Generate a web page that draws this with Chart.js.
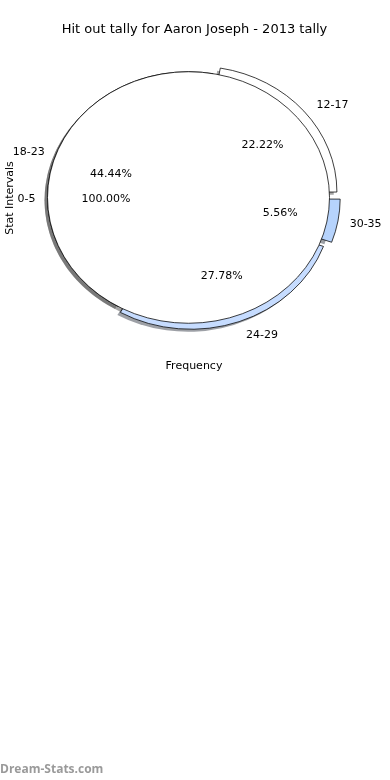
<!DOCTYPE html>
<html>
<head>
<meta charset="utf-8">
<script src="https://cdn.jsdelivr.net/npm/chart.js@4.4.1/dist/chart.umd.min.js"></script>
<style>
body { margin: 0; background: #fff; }
#wrap { position: relative; width: 390px; height: 780px; }
#wrap canvas { position: absolute; left: 0; top: 0; }
</style>
</head>
<body>
<div id="wrap">
  <canvas id="slices" width="390" height="780"></canvas>
  <canvas id="whole" width="390" height="780"></canvas>
</div>
<script>
'use strict';
// slices in the order they go round (anticlockwise from 3 o'clock)
let intervals = ['12-17', '18-23', '24-29', '30-35'];
let tally = [4, 8, 5, 1];
let sliceColors = ['#ffffff', '#ffffff', '#c6dcff', '#b6d3fc'];
let explode = [38, 0, 28, 26];
// the second pie, drawn over the first one
let wholeIntervals = ['0-5'];
let wholeTally = [1];

let squash = 0.892;      // the pie is an oval, not a circle
let shadowShift = 3;
let font = '"DejaVu Sans", sans-serif';
let shadowCharts = [];

function pct(list, i) {
  let sum = list.reduce((a, b) => a + b, 0);
  return (list[i] / sum * 100).toFixed(2) + '%';
}

// chart.js goes clockwise, so feed it back to front
function rev(a) { return a.slice().reverse(); }

function spot(a, dist) {
  let mid = (a.startAngle + a.endAngle) / 2;
  let t = (a.options.offset || 0) / 4;
  let d = t + dist * a.outerRadius;
  return { x: a.x + Math.cos(mid) * d + 2, y: a.y + Math.sin(mid) * d * squash + 2, right: Math.cos(mid) > 0.001 };
}

function shadeOf(hex) {
  let n = parseInt(hex.slice(1), 16);
  let r = Math.round(((n >> 16) & 255) * 0.3);
  let g = Math.round(((n >> 8) & 255) * 0.3);
  let b = Math.round((n & 255) * 0.3);
  return 'rgba(' + r + ',' + g + ',' + b + ',0.5)';
}

function arcPath(ctx, a, dx, dy) {
  let mid = (a.startAngle + a.endAngle) / 2;
  let t = (a.options.offset || 0) / 4;
  let x = a.x + Math.cos(mid) * t + dx;
  let y = a.y + Math.sin(mid) * t + dy;
  let full = a.endAngle - a.startAngle > Math.PI * 2 - 0.001;
  ctx.beginPath();
  if (!full) ctx.moveTo(x, y);
  ctx.arc(x, y, a.outerRadius, a.startAngle, full ? a.startAngle + Math.PI * 2 : a.endAngle);
  ctx.closePath();
}

// every shadow goes under every wedge, so they all live on the bottom canvas
function drawShadows(ctx) {
  shadowCharts.forEach(ch => {
    ch.getDatasetMeta(0).data.forEach(a => {
      arcPath(ctx, a, -shadowShift, shadowShift);
      ctx.fillStyle = shadeOf(a.options.backgroundColor);
      ctx.fill();
    });
  });
}

let ovalPlugin = {
  id: 'oval',
  beforeDatasetsDraw(chart) {
    let ctx = chart.ctx;
    let cy = chart.getDatasetMeta(0).data[0].y;
    ctx.save();
    ctx.translate(0, cy);
    ctx.scale(1, squash);
    ctx.translate(0, -cy);
    if (chart.canvas.id === 'slices') drawShadows(ctx);
  },
  afterDatasetsDraw(chart) {
    let ctx = chart.ctx;
    // the lone 100% wedge gets its rim stroked here, chart.js would add a radius line
    if (chart.canvas.id === 'whole') {
      chart.getDatasetMeta(0).data.forEach(a => {
        arcPath(ctx, a, 0, 0);
        ctx.lineWidth = 0.8;
        ctx.strokeStyle = '#000';
        ctx.stroke();
      });
    }
    ctx.restore();
  }
};

function pieOptions() {
  return {
    responsive: false,
    animation: false,
    events: [],
    rotation: 90,
    radius: 141,
    layout: { padding: { left: 0, right: 13, top: 0, bottom: 385 } },
    plugins: { legend: { display: false }, tooltip: { enabled: false } }
  };
}

let slicesChart = new Chart(document.getElementById('slices'), {
  type: 'pie',
  data: {
    labels: rev(intervals),
    datasets: [{
      data: rev(tally),
      backgroundColor: rev(sliceColors),
      borderColor: '#000',
      borderWidth: 0.8,
      offset: rev(explode)
    }]
  },
  options: pieOptions(),
  plugins: [ovalPlugin]
});

let textPlugin = {
  id: 'texts',
  afterDraw(chart) {
    let ctx = chart.ctx;
    ctx.save();
    ctx.fillStyle = '#000';
    ctx.textBaseline = 'middle';
    ctx.font = '11px ' + font;

    let putLabels = (arcs, names, values) => {
      arcs.forEach((a, i) => {
        let p = spot(a, 1.1);
        ctx.textAlign = p.right ? 'left' : 'right';
        ctx.fillText(names[i], p.x, p.y);
        let q = spot(a, 0.6);
        ctx.textAlign = 'center';
        ctx.fillText(pct(values, i), q.x, q.y);
      });
    };
    putLabels(slicesChart.getDatasetMeta(0).data, rev(intervals), rev(tally));
    putLabels(chart.getDatasetMeta(0).data, wholeIntervals, wholeTally);

    ctx.textAlign = 'center';
    ctx.font = '13px ' + font;
    ctx.fillText('Hit out tally for Aaron Joseph - 2013 tally', 194.5, 30);
    ctx.font = '11px ' + font;
    ctx.fillText('Frequency', 194, 366);
    ctx.translate(10, 198);
    ctx.rotate(-Math.PI / 2);
    ctx.fillText('Stat Intervals', 0, 0);
    ctx.restore();

    ctx.save();
    ctx.font = 'bold 12px "Open Sans", sans-serif';
    ctx.fillStyle = '#9a9a9a';
    ctx.textBaseline = 'middle';
    ctx.textAlign = 'left';
    ctx.fillText('Dream-Stats.com', 0, 770);
    ctx.restore();
  }
};

let wholeChart = new Chart(document.getElementById('whole'), {
  type: 'pie',
  data: {
    labels: wholeIntervals,
    datasets: [{
      data: wholeTally,
      backgroundColor: '#ffffff',
      borderWidth: 0
    }]
  },
  options: pieOptions(),
  plugins: [ovalPlugin, textPlugin]
});

shadowCharts = [slicesChart, wholeChart];
slicesChart.update('none');
</script>
</body>
</html>
